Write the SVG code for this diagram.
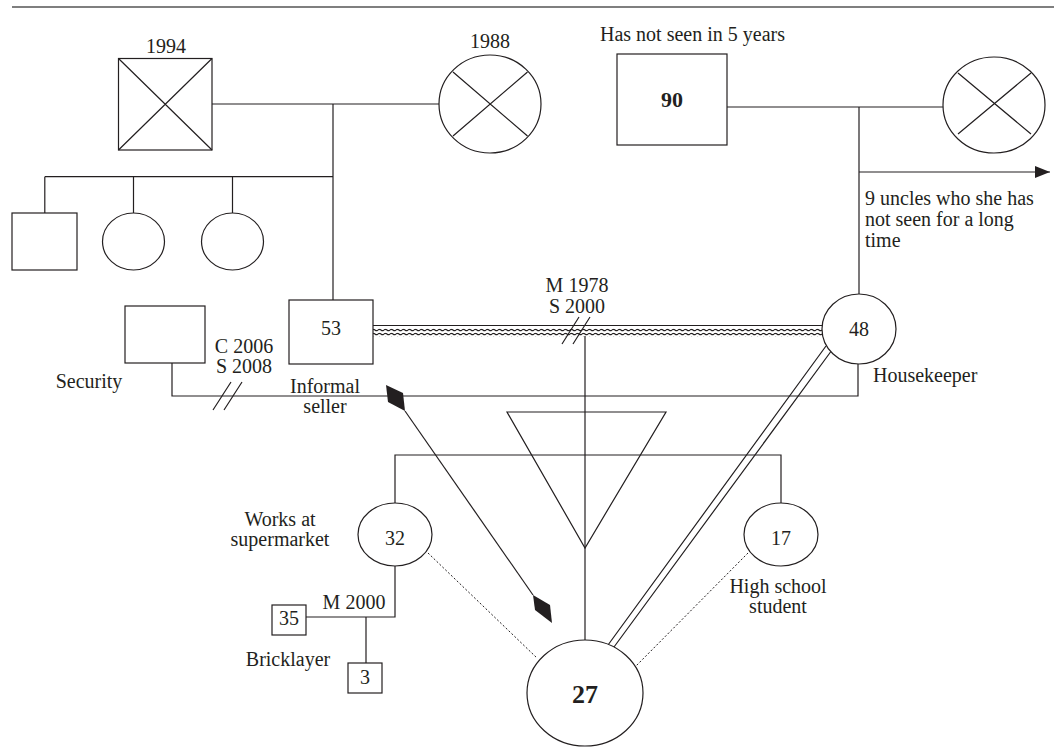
<svg xmlns="http://www.w3.org/2000/svg" width="1054" height="749" viewBox="0 0 1054 749">
<style>
.s{fill:none;stroke:#231f20;stroke-width:1.2}
.n{fill:#fff;stroke:#231f20;stroke-width:1.2}
.t{font-family:"Liberation Serif",serif;font-size:20px;fill:#231f20}
.c{text-anchor:middle}
.b{font-weight:bold}
.d{fill:none;stroke:#231f20;stroke-width:1;stroke-dasharray:2,2}
</style>
<defs>
<pattern id="wave" patternUnits="userSpaceOnUse" x="0" y="0" width="6" height="4">
<path d="M0,2 Q1.5,0.6 3,2 T6,2" fill="none" stroke="#231f20" stroke-width="1.1"/>
</pattern>
<marker id="arr" markerWidth="16" markerHeight="12" refX="15" refY="6" orient="auto" markerUnits="userSpaceOnUse">
<path d="M0,0 L15,6 L0,12 Z" fill="#231f20"/>
</marker>
</defs>
<line x1="12" y1="7" x2="1054" y2="7" stroke="#555" stroke-width="1.5"/>
<g id="connectors">
<path class="s" d="M212,104 H439"/>
<path class="s" d="M333,104 V300"/>
<path class="s" d="M44.8,176.7 H333 M44.8,176.7 V213 M133.5,176.7 V213 M232.5,176.7 V213"/>
<path class="s" d="M727,107 H943"/>
<path class="s" d="M859,107 V294"/>
<path class="s" d="M859,172 H1050" marker-end="url(#arr)"/>
<path class="s" d="M373,325.5 H822"/>
<rect x="373" y="328.5" width="449" height="4" fill="url(#wave)"/>
<rect x="373" y="333" width="449" height="4" fill="url(#wave)"/>
<path class="s" d="M562,344 L579,317 M573,344 L590,317"/>
<path class="s" d="M585,336 V640"/>
<path class="s" d="M172,363 V396 H858 V364"/>
<path class="s" d="M213,410 L231,382 M224,410 L242,382"/>
<path class="s" d="M507,412 H666 L585,548 Z"/>
<path class="s" d="M395,503 V455 H781 V503"/>
<path class="s" d="M395,566 V617 H306 M366,617 V663"/>
<path class="s" d="M405,411 L533,595"/>
<polygon points="386,385 403,393 405,411 388,402" fill="#231f20"/>
<polygon points="533,595 550,605 552,623 535,610" fill="#231f20"/>
<path class="d" d="M428,553 L537,658"/>
<path class="d" d="M748,553 L635,667"/>
<path class="s" d="M826,346 L608,645 M832,350 L614,647"/>
</g>
<g id="n1994">
<rect class="n" x="118.5" y="58.5" width="93.5" height="91.5"/>
<path class="s" d="M118.5,58.5 L212,150 M212,58.5 L118.5,150"/>
<text class="t c" x="166" y="53">1994</text>
</g>
<g id="n1988">
<ellipse class="n" cx="490" cy="104" rx="51" ry="49"/>
<path class="s" d="M453,72 L527.5,136 M453,136 L527.5,72"/>
<text class="t c" x="490" y="48">1988</text>
</g>
<g id="sib1"><rect class="n" x="12" y="213" width="65" height="57"/></g>
<g id="sib2"><ellipse class="n" cx="133.5" cy="241.5" rx="31" ry="28.5"/></g>
<g id="sib3"><ellipse class="n" cx="232.5" cy="241.5" rx="31" ry="28.5"/></g>
<g id="n90">
<rect class="n" x="617" y="54" width="110" height="91"/>
<text class="t c b" x="672" y="107" style="font-size:22px">90</text>
<text class="t" x="600" y="41">Has not seen in 5 years</text>
</g>
<g id="gm-maternal">
<ellipse class="n" cx="994" cy="105" rx="51" ry="48"/>
<path class="s" d="M958,73 L1031,134 M958,134 L1031,73"/>
</g>
<g id="uncles">
<text class="t" x="865" y="205">9 uncles who she has</text>
<text class="t" x="865" y="226">not seen for a long</text>
<text class="t" x="865" y="247">time</text>
</g>
<g id="n53">
<rect class="n" x="289" y="300" width="84" height="64"/>
<text class="t c" x="331" y="335">53</text>
<text class="t c" x="325" y="393">Informal</text>
<text class="t c" x="325" y="413">seller</text>
</g>
<g id="security">
<rect class="n" x="125" y="306" width="80" height="57"/>
<text class="t c" x="89" y="388">Security</text>
</g>
<g id="labels-rel">
<text class="t c" x="244" y="353">C 2006</text>
<text class="t c" x="244" y="373">S 2008</text>
<text class="t c" x="577" y="292">M 1978</text>
<text class="t c" x="577" y="313">S 2000</text>
</g>
<g id="n48">
<ellipse class="n" cx="859" cy="329" rx="37" ry="35"/>
<text class="t c" x="859" y="336">48</text>
<text class="t" x="873" y="382">Housekeeper</text>
</g>
<g id="n32">
<ellipse class="n" cx="395" cy="534.5" rx="37" ry="31.5"/>
<text class="t c" x="395" y="545">32</text>
<text class="t c" x="280" y="526">Works at</text>
<text class="t c" x="280" y="546">supermarket</text>
</g>
<g id="n17">
<ellipse class="n" cx="781" cy="534.5" rx="37" ry="31.5"/>
<text class="t c" x="781" y="545">17</text>
<text class="t c" x="778" y="593">High school</text>
<text class="t c" x="778" y="613">student</text>
</g>
<g id="n35">
<rect class="n" x="272" y="605" width="34" height="30"/>
<text class="t c" x="289" y="625">35</text>
<text class="t c" x="354" y="609">M 2000</text>
<text class="t c" x="288" y="666">Bricklayer</text>
</g>
<g id="n3">
<rect class="n" x="348" y="663" width="34" height="30"/>
<text class="t c" x="365" y="684">3</text>
</g>
<g id="n27">
<ellipse class="n" cx="585" cy="693" rx="58" ry="53"/>
<text class="t c b" x="585" y="703" style="font-size:26px">27</text>
</g>
</svg>
